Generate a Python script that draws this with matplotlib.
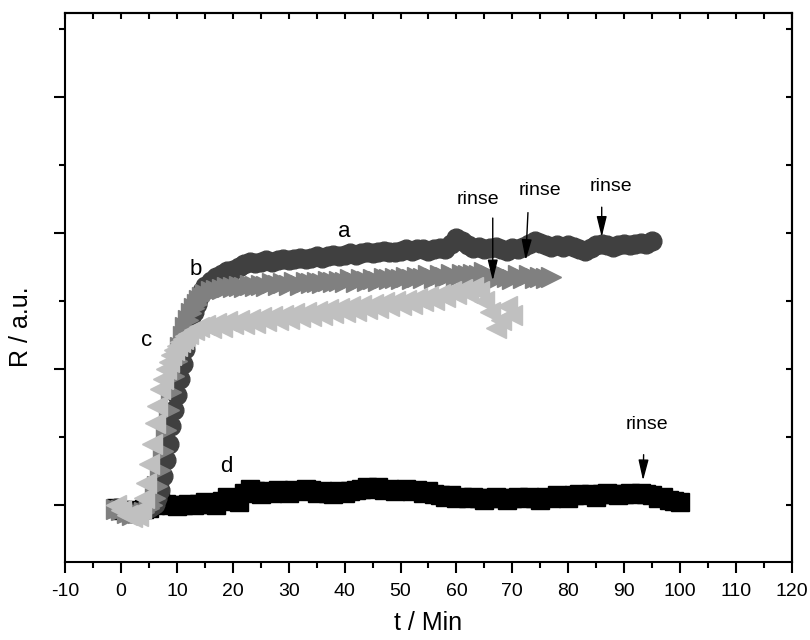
import numpy as np
import matplotlib
matplotlib.use("Agg")
import matplotlib.pyplot as plt
from matplotlib.ticker import MultipleLocator, NullFormatter

plt.rcParams['font.family'] = ['Liberation Sans', 'DejaVu Sans']
plt.rcParams['axes.unicode_minus'] = False

# ---- data ----
t_a = np.concatenate([np.arange(-1, 5.5, 1), np.arange(5.5, 15.5, 0.5), np.arange(16, 96, 1)])
r_a = [-0.02, -0.03, -0.05, -0.06, -0.05, -0.04, -0.02,
       -0.01, 0.01, 0.05, 0.11, 0.21, 0.33, 0.45, 0.58, 0.70, 0.81,
       0.93, 1.04, 1.15, 1.25, 1.34, 1.42, 1.48, 1.53, 1.57, 1.61,
       1.65, 1.68, 1.70, 1.72, 1.73, 1.75, 1.77, 1.79, 1.78, 1.79,
       1.80, 1.79, 1.80, 1.81, 1.80, 1.81, 1.82, 1.81, 1.82, 1.83,
       1.82, 1.83, 1.84, 1.83, 1.84, 1.85, 1.84, 1.85, 1.86, 1.85,
       1.86, 1.87, 1.86, 1.86, 1.87, 1.88, 1.87, 1.88, 1.88, 1.87,
       1.88, 1.89, 1.88, 1.92, 1.96, 1.94, 1.91, 1.89, 1.90, 1.88,
       1.89, 1.90, 1.88, 1.87, 1.89, 1.88, 1.90, 1.92, 1.94, 1.93,
       1.91, 1.90, 1.91, 1.90, 1.91, 1.90, 1.88, 1.87, 1.89, 1.91,
       1.92, 1.91, 1.90, 1.91, 1.92, 1.91, 1.92, 1.93, 1.92, 1.94]

t_b = np.concatenate([np.arange(-1, 5.5, 1), np.arange(5.5, 15.5, 0.5), np.arange(16, 78, 1)])
r_b = [-0.03, -0.04, -0.06, -0.07, -0.06, -0.05, -0.02,
       0.00, 0.05, 0.14, 0.26, 0.40, 0.55, 0.70, 0.83, 0.95, 1.06,
       1.16, 1.24, 1.31, 1.36, 1.41, 1.45, 1.48, 1.51, 1.53, 1.55,
       1.57, 1.58, 1.59, 1.60, 1.60, 1.61, 1.60, 1.62, 1.61, 1.62,
       1.61, 1.63, 1.62, 1.63, 1.62, 1.64, 1.62, 1.64, 1.63, 1.64,
       1.63, 1.65, 1.64, 1.65, 1.64, 1.66, 1.64, 1.66, 1.65, 1.66,
       1.65, 1.67, 1.66, 1.67, 1.66, 1.68, 1.66, 1.68, 1.67, 1.69,
       1.67, 1.69, 1.68, 1.70, 1.68, 1.70, 1.69, 1.70, 1.69, 1.71,
       1.69, 1.66, 1.70, 1.68, 1.66, 1.69, 1.67, 1.69, 1.67, 1.68,
       1.67, 1.68]

t_c = np.concatenate([np.arange(-1, 3.5, 1), np.arange(3.5, 12.5, 0.5), np.arange(13, 71, 1)])
r_c = [0.00, -0.04, -0.07, -0.09, -0.08,
       -0.03, 0.05, 0.16, 0.30, 0.45, 0.60, 0.73, 0.85, 0.93,
       1.00, 1.05, 1.10, 1.14, 1.17, 1.20, 1.22, 1.24, 1.26,
       1.29, 1.31, 1.32, 1.30, 1.34, 1.31, 1.35, 1.33, 1.36, 1.33,
       1.37, 1.34, 1.38, 1.35, 1.39, 1.36, 1.40, 1.37, 1.41, 1.38,
       1.42, 1.39, 1.43, 1.40, 1.44, 1.41, 1.45, 1.42, 1.46, 1.43,
       1.47, 1.44, 1.48, 1.45, 1.49, 1.46, 1.50, 1.47, 1.51, 1.48,
       1.52, 1.50, 1.54, 1.51, 1.55, 1.53, 1.57, 1.55, 1.59, 1.56,
       1.60, 1.57, 1.50, 1.42, 1.30, 1.36, 1.46, 1.40]

t_d = np.arange(-1, 101)
r_d = [-0.02, -0.04, -0.05, -0.04, -0.05, -0.03, -0.02, 0.00, 0.02, 0.01,
       0.00, -0.01, 0.00, 0.01, 0.00, 0.01, 0.02, 0.01, 0.00, 0.03,
       0.06, 0.04, 0.02, 0.09, 0.12, 0.10, 0.08, 0.10, 0.09, 0.11,
       0.10, 0.09, 0.11, 0.10, 0.12, 0.11, 0.09, 0.10, 0.09, 0.08,
       0.10, 0.09, 0.10, 0.11, 0.12, 0.13, 0.12, 0.13, 0.11, 0.12,
       0.10, 0.11, 0.12, 0.10, 0.11, 0.09, 0.10, 0.08, 0.07, 0.06,
       0.07, 0.05, 0.06, 0.05, 0.06, 0.05, 0.04, 0.05, 0.06, 0.05,
       0.04, 0.05, 0.06, 0.05, 0.06, 0.05, 0.04, 0.06, 0.05, 0.07,
       0.06, 0.05, 0.07, 0.08, 0.07, 0.08, 0.06, 0.08, 0.09, 0.08,
       0.07, 0.08, 0.09, 0.08, 0.09, 0.08, 0.07, 0.05, 0.06, 0.04,
       0.03, 0.02]

curve_labels = ['a', 'b', 'c', 'd']
curve_label_pos = [(39.9, 2.01), (13.4, 1.73), (4.6, 1.21), (18.8, 0.28)]

rinse_text = ['rinse', 'rinse', 'rinse', 'rinse']
rinse_text_pos = [(63.9, 2.25), (74.9, 2.31), (87.6, 2.34), (94.1, 0.59)]
rinse_tail = [(66.5, 2.11), (72.8, 2.15), (86.0, 2.19), (93.5, 0.37)]
rinse_tip = [(66.5, 1.65), (72.4, 1.80), (86.0, 1.97), (93.4, 0.18)]

# ---- figure ----
fig = plt.figure(figsize=(8.1, 6.4), dpi=100)
ax = fig.add_axes([0.0806, 0.1219, 0.8968, 0.8578])

ax.plot(t_d, r_d, ls='none', marker='s', ms=12.5, color='#000000', mec='#000000')
ax.plot(t_a, r_a, ls='none', marker='o', ms=13.5, color='#404040', mec='#404040')
ax.plot(t_b, r_b, ls='none', marker='>', ms=14.5, color='#808080', mec='#808080')
ax.plot(t_c, r_c, ls='none', marker='<', ms=14.5, color='#c0c0c0', mec='#c0c0c0')

for lab, (x, y) in zip(curve_labels, curve_label_pos):
    ax.text(x, y, lab, fontsize=16, ha='center', va='center')

for txt, tp, tail, tip in zip(rinse_text, rinse_text_pos, rinse_tail, rinse_tip):
    ax.text(tp[0], tp[1], txt, fontsize=14, ha='center', va='center')
    ax.annotate('', xy=tip, xytext=tail,
                arrowprops=dict(arrowstyle='-|>,head_length=0.9,head_width=0.22',
                                color='black', lw=1.0, mutation_scale=14,
                                shrinkA=0, shrinkB=0))

ax.set_xlim(-10, 120)
ax.set_ylim(-0.419, 3.618)
ax.xaxis.set_major_locator(MultipleLocator(10))
ax.xaxis.set_minor_locator(MultipleLocator(5))
ax.yaxis.set_major_locator(MultipleLocator(1))
ax.yaxis.set_minor_locator(MultipleLocator(0.5))
ax.yaxis.set_major_formatter(NullFormatter())

ax.tick_params(axis='both', which='major', direction='out', length=8, width=1.5,
               labelsize=14)
ax.tick_params(axis='both', which='minor', direction='out', length=4, width=1.5)
ax.tick_params(axis='x', pad=7)

for s in ax.spines.values():
    s.set_linewidth(1.5)

secx = ax.secondary_xaxis('top')
secx.xaxis.set_major_locator(MultipleLocator(10))
secx.xaxis.set_minor_locator(MultipleLocator(5))
secx.tick_params(which='both', direction='in', length=4.5, width=1.5,
                 labelbottom=False, labeltop=False)
secx.spines['top'].set_linewidth(1.5)

secy = ax.secondary_yaxis('right')
secy.yaxis.set_major_locator(MultipleLocator(1))
secy.yaxis.set_minor_locator(MultipleLocator(0.5))
secy.tick_params(which='both', direction='in', length=4.5, width=1.5,
                 labelleft=False, labelright=False)
secy.spines['right'].set_linewidth(1.5)

ax.set_xlabel('t / Min', fontsize=18, labelpad=8)
ax.set_ylabel('R / a.u.', fontsize=18)
ax.yaxis.set_label_coords(-0.045, 0.428)

fig.savefig('out.png', dpi=100)
